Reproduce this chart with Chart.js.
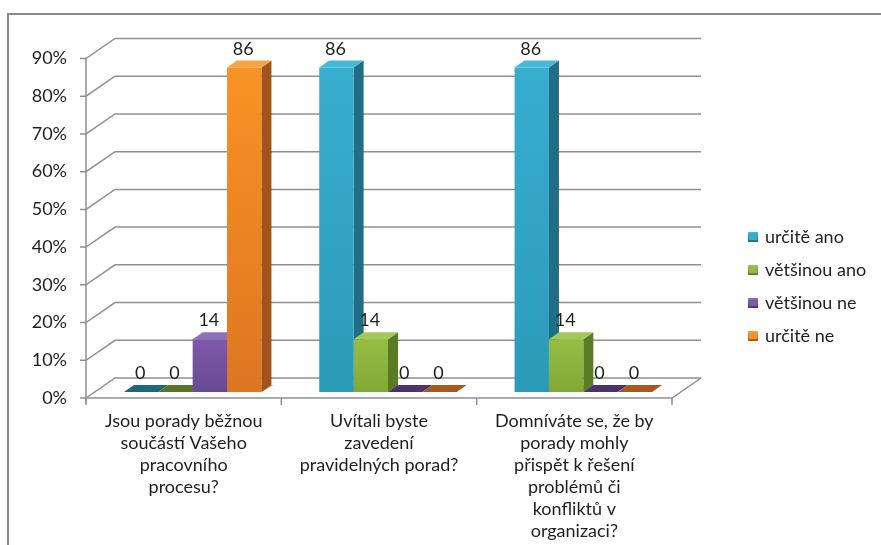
<!DOCTYPE html>
<html>
<head>
<meta charset="utf-8">
<script src="https://cdn.jsdelivr.net/npm/chart.js@4"></script>
<style>
  body { margin: 0; background: #fff; }
  canvas { display: block; }
</style>
</head>
<body>
<canvas id="poradyChart" width="881" height="545"></canvas>
<script>
// otázky (víceřádkové popisky kategorií)
const categories = [
  ['Jsou porady běžnou', 'součástí Vašeho', 'pracovního', 'procesu?'],
  ['Uvítali byste', 'zavedení', 'pravidelných porad?'],
  ['Domníváte se, že by', 'porady mohly', 'přispět k řešení', 'problémů či', 'konfliktů v', 'organizaci?']
];
const seriesNames = ['určitě ano', 'většinou ano', 'většinou ne', 'určitě ne'];

// podíl odpovědí v %
const urciteAno = [0, 86, 86];
const vetsinouAno = [0, 14, 14];
const vetsinouNe = [14, 0, 0];
const urciteNe = [86, 0, 0];

const yTicks = [0, 10, 20, 30, 40, 50, 60, 70, 80, 90];

// barvy: horní a dolní část čela, bok, vrch, plochý sloupec s nulou
const palette = [
  { hi: '#38AECF', lo: '#2B9AB9', side: '#1F6E86', top: '#45B9D8', flat: '#1D687E' },
  { hi: '#95BD45', lo: '#82A838', side: '#5B7A24', top: '#A3C857', flat: '#5A7426' },
  { hi: '#8059AB', lo: '#684A93', side: '#4C346F', top: '#9070BB', flat: '#4A336E' },
  { hi: '#F79325', lo: '#DD7621', side: '#A0541B', top: '#F9A444', flat: '#A65A1F' }
];

// posuny roviny os (přední hrana, zadní stěna) a hloubka sloupce
const FRONT = { dx: -9, dy: 6 };
const BACK = { dx: 20, dy: -14 };
const DEPTH = { dx: 10, dy: -7 };

const FONT = '18px Lato, "Open Sans", sans-serif';
const GRID = '#909090';
const TEXT = '#1f1f1f';

function frontGradient(ctx, i) {
  const c = palette[i];
  const chart = ctx.chart;
  const y = chart.scales && chart.scales.y;
  if (!y || typeof ctx.raw !== 'number') return c.hi;
  const top = y.getPixelForValue(ctx.raw);
  const bottom = y.getPixelForValue(0);
  if (!Number.isFinite(top) || !Number.isFinite(bottom)) return c.hi;
  if (bottom - top < 1) return c.lo;
  const g = chart.ctx.createLinearGradient(0, top, 0, bottom);
  g.addColorStop(0, c.hi);
  g.addColorStop(1, c.lo);
  return g;
}

function poly(ctx, pts, fill) {
  ctx.beginPath();
  ctx.moveTo(pts[0][0], pts[0][1]);
  for (let k = 1; k < pts.length; k++) ctx.lineTo(pts[k][0], pts[k][1]);
  ctx.closePath();
  ctx.fillStyle = fill;
  ctx.fill();
}

function barBox(el) {
  const { x, y, base, width } = el.getProps(['x', 'y', 'base', 'width'], true);
  return { l: x - width / 2, r: x + width / 2, y, b: base };
}

const box3d = {
  id: 'box3d',
  beforeDatasetsDraw(chart) {
    const ctx = chart.ctx;
    const xs = chart.scales.x;
    const ys = chart.scales.y;
    const area = chart.chartArea;
    ctx.save();

    // rámeček grafu
    ctx.strokeStyle = '#8a8a8a';
    ctx.lineWidth = 2;
    ctx.beginPath();
    ctx.moveTo(8, 545);
    ctx.lineTo(8, 14);
    ctx.lineTo(881, 14);
    ctx.stroke();

    const fl = area.left + FRONT.dx;
    const fr = area.right + FRONT.dx;
    const bl = area.left + BACK.dx;
    const br = area.right + BACK.dx;

    ctx.strokeStyle = GRID;
    ctx.lineWidth = 1.5;

    // mřížka: šikmý úsek na boční stěně a vodorovná čára na zadní stěně
    yTicks.forEach(v => {
      const p = ys.getPixelForValue(v);
      ctx.beginPath();
      ctx.moveTo(fl - 6, p + FRONT.dy);
      ctx.lineTo(fl, p + FRONT.dy);
      ctx.lineTo(bl, p + BACK.dy);
      ctx.lineTo(br, p + BACK.dy);
      ctx.stroke();
    });

    // podlaha a osy
    const base = ys.getPixelForValue(0);
    const topV = ys.getPixelForValue(yTicks[yTicks.length - 1]);
    ctx.beginPath();
    ctx.moveTo(fl, topV + FRONT.dy);
    ctx.lineTo(fl, base + FRONT.dy + 5);
    ctx.moveTo(fl, base + FRONT.dy);
    ctx.lineTo(fr, base + FRONT.dy);
    ctx.lineTo(br, base + BACK.dy);
    ctx.stroke();

    const step = (xs.getPixelForValue(1) - xs.getPixelForValue(0));
    for (let k = 0; k <= categories.length; k++) {
      const tx = xs.getPixelForValue(0) - step / 2 + k * step + FRONT.dx;
      ctx.beginPath();
      ctx.moveTo(tx, base + FRONT.dy);
      ctx.lineTo(tx, base + FRONT.dy + 7);
      ctx.stroke();
    }

    // měkký stín sloupců na podlaze
    ctx.save();
    ctx.shadowColor = 'rgba(0,0,0,0.35)';
    ctx.shadowBlur = 10;
    chart.data.datasets.forEach((ds, d) => {
      chart.getDatasetMeta(d).data.forEach((el, i) => {
        if (!(ds.data[i] > 0)) return;
        const { l, r, b } = barBox(el);
        poly(ctx, [[l + 2, b - 1], [l + DEPTH.dx, b + DEPTH.dy], [r + DEPTH.dx + 2, b + DEPTH.dy], [r + 2, b - 1]], 'rgba(0,0,0,0.3)');
      });
    });
    ctx.restore();

    // boky a vrchy sloupců (čela kreslí Chart.js)
    for (let i = 0; i < categories.length; i++) {
      chart.data.datasets.forEach((ds, d) => {
        const { l, r, y, b } = barBox(chart.getDatasetMeta(d).data[i]);
        const c = palette[d];
        if (ds.data[i] > 0) {
          poly(ctx, [[r, y], [r + DEPTH.dx, y + DEPTH.dy], [r + DEPTH.dx, b + DEPTH.dy], [r, b]], c.side);
          poly(ctx, [[l, y], [l + DEPTH.dx, y + DEPTH.dy], [r + DEPTH.dx, y + DEPTH.dy], [r, y]], c.top);
        } else {
          poly(ctx, [[l, b], [l + DEPTH.dx, b + DEPTH.dy], [r + DEPTH.dx, b + DEPTH.dy], [r, b]], c.flat);
        }
      });
    }
    ctx.restore();
  },
  afterDatasetsDraw(chart) {
    const ctx = chart.ctx;
    const xs = chart.scales.x;
    const ys = chart.scales.y;
    const area = chart.chartArea;
    ctx.save();
    ctx.font = FONT;
    ctx.fillStyle = TEXT;

    // hodnoty nad sloupci
    ctx.textAlign = 'center';
    ctx.textBaseline = 'alphabetic';
    chart.data.datasets.forEach((ds, d) => {
      chart.getDatasetMeta(d).data.forEach((el, i) => {
        ctx.fillText(String(ds.data[i]), el.x - 1, el.y - 13);
      });
    });

    // popisky osy Y
    ctx.textAlign = 'right';
    ctx.textBaseline = 'middle';
    yTicks.forEach(v => {
      ctx.fillText(v + '%', area.left + FRONT.dx - 19, ys.getPixelForValue(v) + FRONT.dy);
    });

    // popisky kategorií
    ctx.textAlign = 'center';
    const base = ys.getPixelForValue(0) + FRONT.dy;
    chart.data.labels.forEach((lines, i) => {
      const cx = xs.getPixelForValue(i) + FRONT.dx;
      lines.forEach((t, k) => ctx.fillText(t, cx, base + 23 + k * 22));
    });

    // legenda
    seriesNames.forEach((name, d) => {
      const cy = 237 + d * 33;
      const c = palette[d];
      const g = ctx.createLinearGradient(0, cy - 5, 0, cy + 5);
      g.addColorStop(0, c.top);
      g.addColorStop(1, c.side);
      ctx.fillStyle = g;
      ctx.fillRect(748, cy - 5, 10, 10);
      ctx.fillStyle = c.hi;
      ctx.fillRect(749, cy - 3, 8, 6);
      ctx.fillStyle = TEXT;
      ctx.textAlign = 'left';
      ctx.fillText(name, 765, cy);
    });
    ctx.restore();
  }
};

const seriesData = [urciteAno, vetsinouAno, vetsinouNe, urciteNe];

new Chart(document.getElementById('poradyChart'), {
  type: 'bar',
  data: {
    labels: categories,
    datasets: seriesData.map((values, i) => ({
      label: seriesNames[i],
      data: values,
      backgroundColor: ctx => frontGradient(ctx, i),
      borderWidth: 0,
      barPercentage: 1,
      categoryPercentage: 0.704
    }))
  },
  options: {
    responsive: false,
    animation: false,
    devicePixelRatio: 1,
    layout: { padding: { left: 95, top: 52.5, right: 200, bottom: 153 } },
    plugins: {
      legend: { display: false },
      tooltip: { enabled: false }
    },
    scales: {
      x: { display: false, offset: true },
      y: { display: false, min: 0, max: 90 }
    }
  },
  plugins: [box3d]
});
</script>
</body>
</html>
